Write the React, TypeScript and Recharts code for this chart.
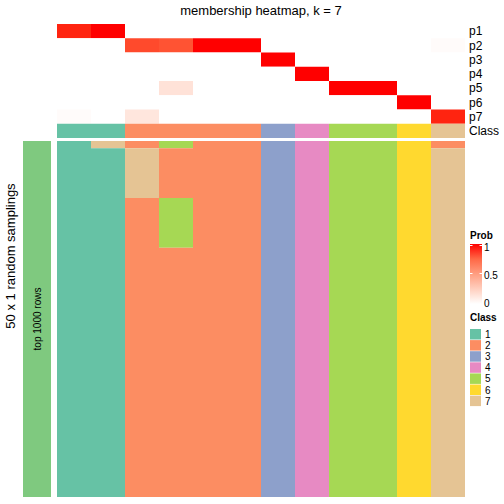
import React from 'react';
import { ComposedChart, BarChart, Bar, XAxis, YAxis, ReferenceArea } from 'recharts';

// ---------- data ----------
const rowLabels = ['p1', 'p2', 'p3', 'p4', 'p5', 'p6', 'p7'];
const probP1 = [0.96, 1, 0, 0, 0, 0, 0, 0, 0, 0, 0, 0];
const probP2 = [0, 0, 0.86, 0.83, 1, 1, 0, 0, 0, 0, 0, 0.02];
const probP3 = [0, 0, 0, 0, 0, 0, 1, 0, 0, 0, 0, 0];
const probP4 = [0, 0, 0, 0, 0, 0, 0, 1, 0, 0, 0, 0];
const probP5 = [0, 0, 0, 0.15, 0, 0, 0, 0, 1, 1, 0, 0];
const probP6 = [0, 0, 0, 0, 0, 0, 0, 0, 0, 0, 1, 0];
const probP7 = [0.02, 0, 0.13, 0, 0, 0, 0, 0, 0, 0, 0, 0.96];
const probRows = [probP1, probP2, probP3, probP4, probP5, probP6, probP7];

const classRow = [1, 1, 2, 2, 2, 2, 3, 4, 5, 5, 6, 7];
const classNames = ['1', '2', '3', '4', '5', '6', '7'];
const classColors = ['#66C2A5', '#FC8D62', '#8DA0CB', '#E78AC3', '#A6D854', '#FFD92F', '#E5C494'];

// 50 random samplings x 12 columns (class membership)
const samplingRows: number[][] = [
  [1, 7, 2, 5, 2, 2, 3, 4, 5, 5, 6, 2],
  [1, 1, 7, 2, 2, 2, 3, 4, 5, 5, 6, 7],
  [1, 1, 7, 2, 2, 2, 3, 4, 5, 5, 6, 7],
  [1, 1, 7, 2, 2, 2, 3, 4, 5, 5, 6, 7],
  [1, 1, 7, 2, 2, 2, 3, 4, 5, 5, 6, 7],
  [1, 1, 7, 2, 2, 2, 3, 4, 5, 5, 6, 7],
  [1, 1, 7, 2, 2, 2, 3, 4, 5, 5, 6, 7],
  [1, 1, 7, 2, 2, 2, 3, 4, 5, 5, 6, 7],
  [1, 1, 2, 5, 2, 2, 3, 4, 5, 5, 6, 7],
  [1, 1, 2, 5, 2, 2, 3, 4, 5, 5, 6, 7],
  [1, 1, 2, 5, 2, 2, 3, 4, 5, 5, 6, 7],
  [1, 1, 2, 5, 2, 2, 3, 4, 5, 5, 6, 7],
  [1, 1, 2, 5, 2, 2, 3, 4, 5, 5, 6, 7],
  [1, 1, 2, 5, 2, 2, 3, 4, 5, 5, 6, 7],
  [1, 1, 2, 5, 2, 2, 3, 4, 5, 5, 6, 7],
  [1, 1, 2, 2, 2, 2, 3, 4, 5, 5, 6, 7],
  [1, 1, 2, 2, 2, 2, 3, 4, 5, 5, 6, 7],
  [1, 1, 2, 2, 2, 2, 3, 4, 5, 5, 6, 7],
  [1, 1, 2, 2, 2, 2, 3, 4, 5, 5, 6, 7],
  [1, 1, 2, 2, 2, 2, 3, 4, 5, 5, 6, 7],
  [1, 1, 2, 2, 2, 2, 3, 4, 5, 5, 6, 7],
  [1, 1, 2, 2, 2, 2, 3, 4, 5, 5, 6, 7],
  [1, 1, 2, 2, 2, 2, 3, 4, 5, 5, 6, 7],
  [1, 1, 2, 2, 2, 2, 3, 4, 5, 5, 6, 7],
  [1, 1, 2, 2, 2, 2, 3, 4, 5, 5, 6, 7],
  [1, 1, 2, 2, 2, 2, 3, 4, 5, 5, 6, 7],
  [1, 1, 2, 2, 2, 2, 3, 4, 5, 5, 6, 7],
  [1, 1, 2, 2, 2, 2, 3, 4, 5, 5, 6, 7],
  [1, 1, 2, 2, 2, 2, 3, 4, 5, 5, 6, 7],
  [1, 1, 2, 2, 2, 2, 3, 4, 5, 5, 6, 7],
  [1, 1, 2, 2, 2, 2, 3, 4, 5, 5, 6, 7],
  [1, 1, 2, 2, 2, 2, 3, 4, 5, 5, 6, 7],
  [1, 1, 2, 2, 2, 2, 3, 4, 5, 5, 6, 7],
  [1, 1, 2, 2, 2, 2, 3, 4, 5, 5, 6, 7],
  [1, 1, 2, 2, 2, 2, 3, 4, 5, 5, 6, 7],
  [1, 1, 2, 2, 2, 2, 3, 4, 5, 5, 6, 7],
  [1, 1, 2, 2, 2, 2, 3, 4, 5, 5, 6, 7],
  [1, 1, 2, 2, 2, 2, 3, 4, 5, 5, 6, 7],
  [1, 1, 2, 2, 2, 2, 3, 4, 5, 5, 6, 7],
  [1, 1, 2, 2, 2, 2, 3, 4, 5, 5, 6, 7],
  [1, 1, 2, 2, 2, 2, 3, 4, 5, 5, 6, 7],
  [1, 1, 2, 2, 2, 2, 3, 4, 5, 5, 6, 7],
  [1, 1, 2, 2, 2, 2, 3, 4, 5, 5, 6, 7],
  [1, 1, 2, 2, 2, 2, 3, 4, 5, 5, 6, 7],
  [1, 1, 2, 2, 2, 2, 3, 4, 5, 5, 6, 7],
  [1, 1, 2, 2, 2, 2, 3, 4, 5, 5, 6, 7],
  [1, 1, 2, 2, 2, 2, 3, 4, 5, 5, 6, 7],
  [1, 1, 2, 2, 2, 2, 3, 4, 5, 5, 6, 7],
  [1, 1, 2, 2, 2, 2, 3, 4, 5, 5, 6, 7],
  [1, 1, 2, 2, 2, 2, 3, 4, 5, 5, 6, 7],
];

const titleText = 'membership heatmap, k = 7';
const rowTitle = '50 x 1 random samplings';
const sliceTitle = 'top 1000 rows';
const sliceColor = '#7FC97F';
const probTicks = [1, 0.5, 0];

// ---------- layout (units on the shared y axis) ----------
const TOP_UNITS = 2; // height of one probability row in y units
const GAP_UNITS = 0.45;
const nCols = classRow.length;
const classStart = rowLabels.length * TOP_UNITS;
const bottomStart = classStart + TOP_UNITS + GAP_UNITS;
const yMax = bottomStart + samplingRows.length;
const FONT = '"Liberation Sans", Arial, Helvetica, sans-serif';

// white -> red in LAB space
function ramp(p: number): string {
  const L = 100 + (53.24 - 100) * p;
  const A = 80.09 * p;
  const B = 67.2 * p;
  const fy = (L + 16) / 116;
  const fx = A / 500 + fy;
  const fz = fy - B / 200;
  const f = (t: number) => (t ** 3 > 0.008856 ? t ** 3 : (t - 16 / 116) / 7.787);
  const X = 0.95047 * f(fx);
  const Y = 1.0 * f(fy);
  const Z = 1.08883 * f(fz);
  const lin = [
    X * 3.2406 + Y * -1.5372 + Z * -0.4986,
    X * -0.9689 + Y * 1.8758 + Z * 0.0415,
    X * 0.0557 + Y * -0.204 + Z * 1.057,
  ];
  const out = lin.map((v) => {
    const g = v > 0.0031308 ? 1.055 * Math.pow(v, 1 / 2.4) - 0.055 : 12.92 * v;
    return Math.round(Math.max(0, Math.min(1, g)) * 255);
  });
  return `rgb(${out[0]},${out[1]},${out[2]})`;
}

// merge vertical runs of equal class in the sampling matrix
function columnRuns(col: number) {
  const runs: { start: number; end: number; cls: number }[] = [];
  samplingRows.forEach((row, r) => {
    const cls = row[col];
    const last = runs[runs.length - 1];
    if (last && last.cls === cls && last.end === r) last.end = r + 1;
    else runs.push({ start: r, end: r + 1, cls });
  });
  return runs;
}

const axisLabels = [...rowLabels, 'Class'];
const axisTicks = axisLabels.map((_, i) => i * TOP_UNITS + TOP_UNITS / 2);

export default function App() {
  const areas: React.ReactNode[] = [];
  probRows.forEach((row, r) => {
    row.forEach((p, c) => {
      areas.push(
        <ReferenceArea
          key={`p-${r}-${c}`}
          x1={c}
          x2={c + 1}
          y1={r * TOP_UNITS}
          y2={(r + 1) * TOP_UNITS}
          fill={ramp(p)}
          fillOpacity={1}
          stroke="none"
          ifOverflow="visible"
        />
      );
    });
  });
  classRow.forEach((cls, c) => {
    areas.push(
      <ReferenceArea
        key={`c-${c}`}
        x1={c}
        x2={c + 1}
        y1={classStart}
        y2={classStart + TOP_UNITS}
        fill={classColors[cls - 1]}
        fillOpacity={1}
        stroke="none"
        ifOverflow="visible"
      />
    );
  });
  for (let c = 0; c < nCols; c++) {
    columnRuns(c).forEach((run, i) => {
      areas.push(
        <ReferenceArea
          key={`s-${c}-${i}`}
          x1={c}
          x2={c + 1}
          y1={bottomStart + run.start}
          y2={bottomStart + run.end}
          fill={classColors[run.cls - 1]}
          fillOpacity={1}
          stroke="none"
          ifOverflow="visible"
        />
      );
    });
  }

  return (
    <div style={{ position: 'absolute', left: 0, top: 0, width: 504, height: 504, background: '#fff', fontFamily: FONT }}>
      <div style={{ position: 'absolute', left: 0, top: 0 }}>
        <ComposedChart
          width={504}
          height={504}
          data={[{ x: 0, y: 0 }]}
          margin={{ top: 24, left: 57, right: 0, bottom: 7 }}
        >
          <XAxis type="number" dataKey="x" domain={[0, nCols]} hide allowDataOverflow />
          <YAxis
            type="number"
            domain={[0, yMax]}
            reversed
            orientation="right"
            width={39}
            ticks={axisTicks}
            interval={0}
            tickFormatter={(v: number) => axisLabels[Math.round((v - TOP_UNITS / 2) / TOP_UNITS)] ?? ''}
            axisLine={false}
            tickLine={false}
            tickSize={4}
            tickMargin={0}
            allowDataOverflow
            tick={{ fill: '#000', fontSize: 12, fontFamily: FONT }}
          />
          {areas}
        </ComposedChart>
      </div>
      <div style={{ position: 'absolute', left: 23, top: 141 }}>
        <BarChart
          width={28}
          height={356}
          data={[{ name: sliceTitle, v: 1 }]}
          margin={{ top: 0, left: 0, right: 0, bottom: 0 }}
          barCategoryGap={0}
        >
          <XAxis dataKey="name" hide />
          <YAxis domain={[0, 1]} hide />
          <Bar dataKey="v" fill={sliceColor} isAnimationActive={false} />
        </BarChart>
      </div>
      <svg width={504} height={504} style={{ position: 'absolute', left: 0, top: 0, pointerEvents: 'none' }}>
        <text x={261} y={15} textAnchor="middle" fontSize={13} fontFamily={FONT} fill="#000">
          {titleText}
        </text>
        <text
          x={0}
          y={0}
          transform="translate(15,256) rotate(-90)"
          textAnchor="middle"
          fontSize={13}
          fontFamily={FONT}
          fill="#000"
        >
          {rowTitle}
        </text>
        <text
          x={0}
          y={0}
          transform="translate(40.5,319) rotate(-90)"
          textAnchor="middle"
          fontSize={10}
          fontFamily={FONT}
          fill="#000"
        >
          {sliceTitle}
        </text>
        {/* Prob legend */}
        <defs>
          <linearGradient id="probGrad" x1="0" y1="1" x2="0" y2="0">
            {[0, 0.25, 0.5, 0.75, 1].map((p) => (
              <stop key={p} offset={`${p * 100}%`} stopColor={ramp(p)} />
            ))}
          </linearGradient>
        </defs>
        <text x={470} y={239} fontSize={10} fontWeight="bold" fontFamily={FONT} fill="#000">
          Prob
        </text>
        <rect x={470} y={244} width={12} height={60} fill="url(#probGrad)" />
        {probTicks.map((t) => {
          const y = 303 - t * 56;
          return (
            <g key={t}>
              {t > 0 && (
                <>
                  <line x1={470} x2={472.5} y1={y - 1.5} y2={y - 1.5} stroke="#fff" strokeWidth={1} />
                  <line x1={479.5} x2={482} y1={y - 1.5} y2={y - 1.5} stroke="#fff" strokeWidth={1} />
                </>
              )}
              <text x={484} y={y} dy="0.35em" fontSize={10} fontFamily={FONT} fill="#000">
                {t}
              </text>
            </g>
          );
        })}
        {/* Class legend */}
        <text x={470} y={321} fontSize={10} fontWeight="bold" fontFamily={FONT} fill="#000">
          Class
        </text>
        {classNames.map((n, i) => (
          <g key={n}>
            <rect x={470} y={329 + i * 11.1} width={11} height={10.5} fill={classColors[i]} />
            <text x={485} y={334.5 + i * 11.1} dy="0.35em" fontSize={10} fontFamily={FONT} fill="#000">
              {n}
            </text>
          </g>
        ))}
      </svg>
    </div>
  );
}
